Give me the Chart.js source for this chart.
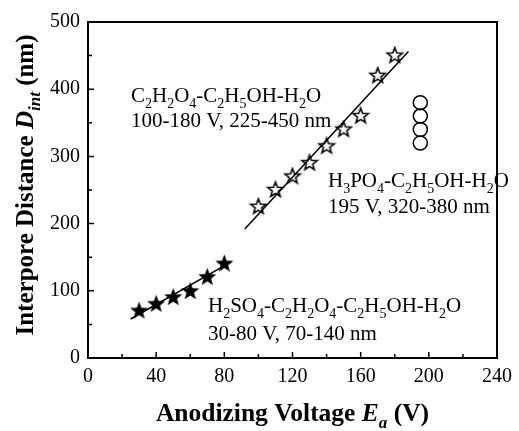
<!DOCTYPE html>
<html>
<head>
<meta charset="utf-8">
<script src="https://cdn.jsdelivr.net/npm/chart.js@4.4.0/dist/chart.umd.min.js"></script>
<style>
html,body{margin:0;padding:0;background:#fff}
canvas{display:block}
</style>
</head>
<body>
<canvas id="chart" width="519" height="431"></canvas>
<script>
// H2SO4-C2H2O4-C2H5OH-H2O (filled stars) and its fit line
const sulfVoltage = [30, 40, 50, 60, 70, 80];
const sulfDint = [70, 80, 90, 99, 120, 140];
const sulfFitX = [25, 84];
const sulfFitY = [58, 143];
// C2H2O4-C2H5OH-H2O (open stars) and its fit line
const oxVoltage = [100, 110, 120, 130, 140, 150, 160, 170, 180];
const oxDint = [225, 250, 270, 290, 315, 340, 360, 420, 450];
const oxFitX = [92, 188];
const oxFitY = [192, 456];
// H3PO4-C2H5OH-H2O (open circles)
const phosVoltage = [195, 195, 195, 195];
const phosDint = [320, 340, 360, 380];
// axes
const xMin = 0, xMax = 240, xStep = 40;
const yMin = 0, yMax = 500, yStep = 100;
// annotation texts ("_" makes the next char a subscript)
const noteOx = ["C_2H_2O_4-C_2H_5OH-H_2O", "100-180 V, 225-450 nm"];
const notePhos = ["H_3PO_4-C_2H_5OH-H_2O", "195 V, 320-380 nm"];
const noteSulf = ["H_2SO_4-C_2H_2O_4-C_2H_5OH-H_2O", "30-80 V, 70-140 nm"];

const FONT = '"Liberation Serif", "Times New Roman", serif';

function pts(xs, ys) {
    return xs.map((x, i) => ({x: x, y: ys[i]}));
}

/** vẽ ngôi sao 5 cánh lên canvas nhỏ để dùng làm pointStyle */
function makeStar(r, filled) {
    const c = document.createElement('canvas');
    const s = Math.ceil(r * 2 + 4);
    c.width = s; c.height = s;
    const g = c.getContext('2d');
    g.beginPath();
    for (let i = 0; i < 10; i++) {
        const rad = i % 2 === 0 ? r : r * 0.42;
        const a = -Math.PI / 2 + i * Math.PI / 5;
        const px = s / 2 + rad * Math.cos(a), py = s / 2 + rad * Math.sin(a);
        if (i === 0) g.moveTo(px, py); else g.lineTo(px, py);
    }
    g.closePath();
    if (filled) {
        g.fillStyle = '#000'; g.fill();
    } else {
        g.fillStyle = '#fff'; g.fill();
        g.lineWidth = 1.6; g.strokeStyle = '#000'; g.stroke();
    }
    return c;
}

/** text with subscripts; segs parsed from "_" markup */
function parseRich(str) {
    const segs = [];
    for (let i = 0; i < str.length; i++) {
        if (str[i] === '_' && i + 1 < str.length) {
            segs.push({t: str[i + 1], sub: true});
            i++;
        } else {
            const last = segs[segs.length - 1];
            if (last && !last.sub && !last.italic) last.t += str[i];
            else segs.push({t: str[i], sub: false});
        }
    }
    return segs;
}

function segFont(seg, size, weight) {
    const sz = seg.sub ? Math.round(size * 0.66) : size;
    return (seg.italic ? 'italic ' : '') + weight + ' ' + sz + 'px ' + FONT;
}

function richWidth(ctx, segs, size, weight) {
    let w = 0;
    segs.forEach(s => { ctx.font = segFont(s, size, weight); w += ctx.measureText(s.t).width; });
    return w;
}

function drawRich(ctx, segs, x, y, size, weight) {
    let cx = x;
    segs.forEach(s => {
        ctx.font = segFont(s, size, weight);
        ctx.fillText(s.t, cx, s.sub ? y + size * 0.28 : y);
        cx += ctx.measureText(s.t).width;
    });
}

const frameAndText = {
    id: 'frameAndText',
    afterDraw(chart) {
        const ctx = chart.ctx;
        const a = chart.chartArea;
        const xs = chart.scales.x, ys = chart.scales.y;
        ctx.save();
        ctx.strokeStyle = '#000';
        ctx.lineWidth = 2;
        ctx.strokeRect(a.left, a.top, a.right - a.left, a.bottom - a.top);
        // inward ticks
        ctx.lineWidth = 1.5;
        ctx.beginPath();
        for (let v = xMin; v <= xMax; v += xStep / 2) {
            const px = xs.getPixelForValue(v);
            const len = (v % xStep === 0) ? 6 : 4;
            ctx.moveTo(px, a.bottom); ctx.lineTo(px, a.bottom - len);
        }
        for (let v = yMin; v <= yMax; v += yStep / 2) {
            const py = ys.getPixelForValue(v);
            const len = (v % yStep === 0) ? 6 : 4;
            ctx.moveTo(a.left, py); ctx.lineTo(a.left + len, py);
        }
        ctx.stroke();

        ctx.fillStyle = '#000';
        ctx.textBaseline = 'alphabetic';
        ctx.textAlign = 'left';
        // annotations
        const notes = [
            [noteOx, 131, 102, 127],
            [notePhos, 328, 187, 213],
            [noteSulf, 208, 312, 340]
        ];
        notes.forEach(n => {
            drawRich(ctx, parseRich(n[0][0]), n[1], n[2], 21, 'normal');
            drawRich(ctx, parseRich(n[0][1]), n[1], n[3], 21, 'normal');
        });

        // x title
        const xt = [
            {t: 'Anodizing Voltage '},
            {t: 'E', italic: true},
            {t: 'a', italic: true, sub: true},
            {t: ' (V)'}
        ];
        const xw = richWidth(ctx, xt, 25.5, 'bold');
        drawRich(ctx, xt, (a.left + a.right) / 2 - xw / 2, 421, 25.5, 'bold');

        // y title
        const yt = [
            {t: 'Interpore Distance '},
            {t: 'D', italic: true},
            {t: 'int', italic: true, sub: true},
            {t: ' (nm)'}
        ];
        const yw = richWidth(ctx, yt, 25, 'bold');
        ctx.translate(33, 185);
        ctx.rotate(-Math.PI / 2);
        drawRich(ctx, yt, -yw / 2, 0, 25, 'bold');
        ctx.restore();
    }
};

const filledStar = makeStar(9.5, true);
const openStar = makeStar(8, false);

new Chart(document.getElementById('chart'), {
    type: 'scatter',
    data: {
        datasets: [
            {
                data: pts(sulfFitX, sulfFitY), showLine: true, pointRadius: 0,
                borderColor: '#000', borderWidth: 1.5
            },
            {
                data: pts(oxFitX, oxFitY), showLine: true, pointRadius: 0,
                borderColor: '#000', borderWidth: 1.5
            },
            {
                data: pts(sulfVoltage, sulfDint), pointStyle: filledStar
            },
            {
                data: pts(oxVoltage, oxDint), pointStyle: openStar
            },
            {
                data: pts(phosVoltage, phosDint), pointStyle: 'circle', pointRadius: 7,
                backgroundColor: 'rgba(255,255,255,0)', borderColor: '#000', borderWidth: 1.5
            }
        ]
    },
    options: {
        responsive: false,
        animation: false,
        layout: {padding: {top: 22, right: 14, left: 0, bottom: 0}},
        plugins: {legend: {display: false}, tooltip: {enabled: false}},
        scales: {
            x: {
                type: 'linear', min: xMin, max: xMax,
                grid: {display: false, drawTicks: false},
                border: {display: false},
                ticks: {stepSize: xStep, padding: 7, color: '#000', font: {family: FONT, size: 20}},
                afterFit(s) { s.height = 73; }
            },
            y: {
                type: 'linear', min: yMin, max: yMax,
                grid: {display: false, drawTicks: false},
                border: {display: false},
                ticks: {stepSize: yStep, padding: 8, color: '#000', font: {family: FONT, size: 20}},
                afterFit(s) { s.width = 88; }
            }
        }
    },
    plugins: [frameAndText]
});
</script>
</body>
</html>
